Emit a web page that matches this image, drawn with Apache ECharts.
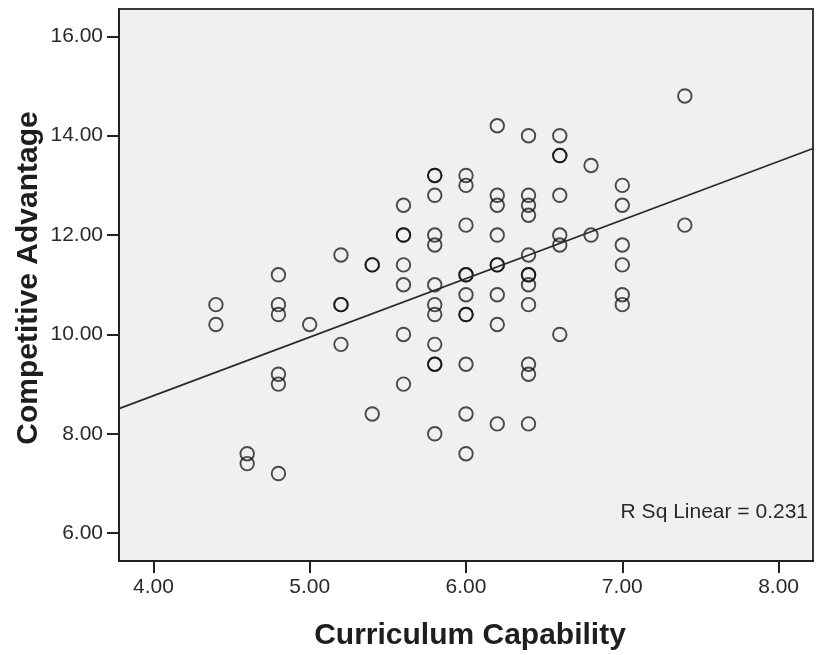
<!DOCTYPE html>
<html>
<head>
<meta charset="utf-8">
<title>Curriculum Capability vs Competitive Advantage</title>
<script src="https://cdn.jsdelivr.net/npm/echarts@6/dist/echarts.min.js"></script>
<style>
  html, body { margin: 0; padding: 0; background: #ffffff; }
  #chart { width: 817px; height: 655px; }
</style>
</head>
<body>
<div id="chart"></div>
<script>
// Respondent scores, one entry per case (listed by capability level).
const curriculumCapability = [
  4.4, 4.4,
  4.6, 4.6,
  4.8, 4.8, 4.8, 4.8, 4.8, 4.8,
  5.0,
  5.2, 5.2, 5.2, 5.2,
  5.4, 5.4, 5.4,
  5.6, 5.6, 5.6, 5.6, 5.6, 5.6, 5.6,
  5.8, 5.8, 5.8, 5.8, 5.8, 5.8, 5.8, 5.8, 5.8, 5.8, 5.8, 5.8,
  6.0, 6.0, 6.0, 6.0, 6.0, 6.0, 6.0, 6.0, 6.0, 6.0, 6.0,
  6.2, 6.2, 6.2, 6.2, 6.2, 6.2, 6.2, 6.2, 6.2,
  6.4, 6.4, 6.4, 6.4, 6.4, 6.4, 6.4, 6.4, 6.4, 6.4, 6.4, 6.4,
  6.6, 6.6, 6.6, 6.6, 6.6, 6.6, 6.6,
  6.8, 6.8,
  7.0, 7.0, 7.0, 7.0, 7.0, 7.0,
  7.4, 7.4
];
const competitiveAdvantage = [
  10.6, 10.2,
  7.6, 7.4,
  11.2, 10.6, 10.4, 9.2, 9.0, 7.2,
  10.2,
  11.6, 10.6, 10.6, 9.8,
  11.4, 11.4, 8.4,
  12.6, 12.0, 12.0, 11.4, 11.0, 10.0, 9.0,
  13.2, 13.2, 12.8, 12.0, 11.8, 11.0, 10.6, 10.4, 9.8, 9.4, 9.4, 8.0,
  13.2, 13.0, 12.2, 11.2, 11.2, 10.8, 10.4, 10.4, 9.4, 8.4, 7.6,
  14.2, 12.8, 12.6, 12.0, 11.4, 11.4, 10.8, 10.2, 8.2,
  14.0, 12.8, 12.6, 12.4, 11.6, 11.2, 11.2, 11.0, 10.6, 9.4, 9.2, 8.2,
  14.0, 13.6, 13.6, 12.8, 12.0, 11.8, 10.0,
  13.4, 12.0,
  13.0, 12.6, 11.8, 11.4, 10.8, 10.6,
  14.8, 12.2
];

// Axis tick positions and fit annotation
const xTicks = [4, 5, 6, 7, 8];
const yTicks = [6, 8, 10, 12, 14, 16];
const xRange = [3.78, 8.22];
const yRange = [5.44, 16.55];
const rSqLabel = 'R Sq Linear = 0.231';

// Ordinary least-squares fit of advantage on capability
function linearFit(xs, ys) {
  const n = xs.length;
  let mx = 0, my = 0;
  for (let i = 0; i < n; i++) { mx += xs[i]; my += ys[i]; }
  mx /= n; my /= n;
  let sxy = 0, sxx = 0;
  for (let i = 0; i < n; i++) {
    sxy += (xs[i] - mx) * (ys[i] - my);
    sxx += (xs[i] - mx) * (xs[i] - mx);
  }
  const slope = sxy / sxx;
  return { slope: slope, intercept: my - slope * mx };
}

const fit = linearFit(curriculumCapability, competitiveAdvantage);
const fitLine = xRange.map(function (x) { return [x, fit.intercept + fit.slope * x]; });
const points = curriculumCapability.map(function (x, i) { return [x, competitiveAdvantage[i]]; });

const chart = echarts.init(document.getElementById('chart'), null, { renderer: 'canvas' });

const tickLabelStyle = {
  fontFamily: '"Liberation Sans", Arial, sans-serif',
  fontSize: 21,
  color: '#2a2a2a'
};

chart.setOption({
  animation: false,
  backgroundColor: '#ffffff',
  grid: {
    left: 119, top: 9, right: 4, bottom: 94,
    show: true,
    backgroundColor: '#f0f0f0',
    borderColor: '#3a3a3a',
    borderWidth: 2
  },
  xAxis: {
    type: 'value',
    min: xRange[0],
    max: xRange[1],
    splitLine: { show: false },
    axisLine: { show: true, onZero: false, lineStyle: { color: '#222', width: 2 } },
    axisTick: { show: true, length: 12, lineStyle: { color: '#222', width: 2 }, customValues: xTicks },
    axisLabel: Object.assign({ margin: 16, customValues: xTicks, formatter: function (v) { return v.toFixed(2); } }, tickLabelStyle)
  },
  yAxis: {
    type: 'value',
    min: yRange[0],
    max: yRange[1],
    splitLine: { show: false },
    axisLine: { show: true, onZero: false, lineStyle: { color: '#222', width: 2 } },
    axisTick: { show: true, length: 12, lineStyle: { color: '#222', width: 2 }, customValues: yTicks },
    axisLabel: Object.assign({ margin: 16, customValues: yTicks, formatter: function (v) { return v.toFixed(2); } }, tickLabelStyle)
  },
  series: [
    {
      type: 'scatter',
      data: points,
      symbol: 'circle',
      symbolSize: 13.5,
      itemStyle: {
        color: 'rgba(0,0,0,0)',
        borderColor: 'rgba(10,10,10,0.9)',
        borderWidth: 1.9
      },
      emphasis: { disabled: true },
      silent: true
    },
    {
      type: 'line',
      data: fitLine,
      showSymbol: false,
      clip: true,
      lineStyle: { color: '#2a2a2a', width: 1.7 },
      silent: true
    }
  ],
  graphic: [
    {
      type: 'text',
      x: 470,
      y: 636,
      style: {
        text: 'Curriculum Capability',
        fontFamily: '"Liberation Sans", Arial, sans-serif',
        fontWeight: 'bold',
        fontSize: 30,
        fill: '#1e1e1e',
        align: 'center',
        verticalAlign: 'middle'
      }
    },
    {
      type: 'text',
      x: 29,
      y: 278,
      rotation: Math.PI / 2,
      style: {
        text: 'Competitive Advantage',
        fontFamily: '"Liberation Sans", Arial, sans-serif',
        fontWeight: 'bold',
        fontSize: 30,
        fill: '#1e1e1e',
        align: 'center',
        verticalAlign: 'middle'
      }
    },
    {
      type: 'text',
      x: 808,
      y: 512,
      style: {
        text: rSqLabel,
        fontFamily: '"Liberation Sans", Arial, sans-serif',
        fontSize: 21,
        fill: '#2a2a2a',
        align: 'right',
        verticalAlign: 'middle'
      }
    }
  ]
});
</script>
</body>
</html>
